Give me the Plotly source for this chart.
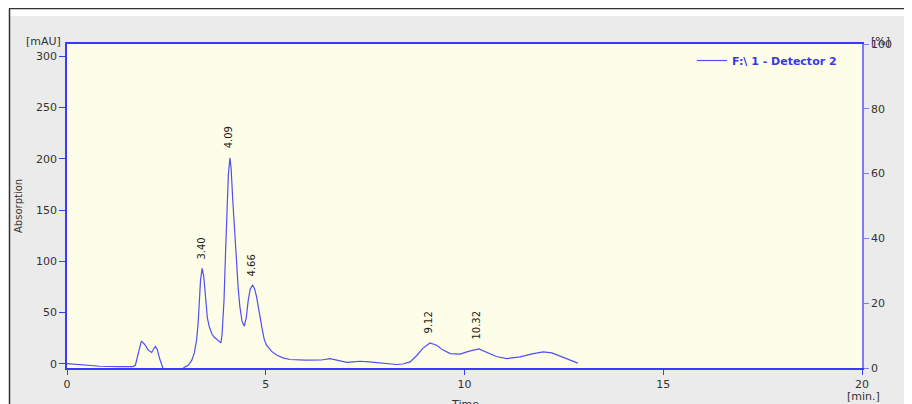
import plotly.graph_objects as go

# ---- data ----
time_min = [0.00, 0.40, 0.83, 1.30, 1.66, 1.72, 1.80, 1.87, 1.95, 2.05, 2.13, 2.18, 2.22, 2.27,
            2.33, 2.41, 2.50, 2.70, 2.88, 2.95, 3.05, 3.14, 3.20, 3.26, 3.30, 3.33, 3.36, 3.40,
            3.44, 3.47, 3.50, 3.53, 3.58, 3.64, 3.70, 3.77, 3.84, 3.87, 3.90, 3.95, 3.99, 4.02,
            4.06, 4.10, 4.13, 4.17, 4.22, 4.27, 4.31, 4.35, 4.40, 4.46, 4.51, 4.56, 4.61, 4.67,
            4.72, 4.77, 4.83, 4.90, 4.96, 5.02, 5.15, 5.28, 5.45, 5.61, 6.00, 6.40, 6.62, 6.80,
            7.04, 7.20, 7.37, 7.60, 7.80, 8.05, 8.29, 8.45, 8.63, 8.80, 8.95, 9.13, 9.30, 9.45,
            9.64, 9.89, 10.10, 10.36, 10.55, 10.80, 11.06, 11.40, 11.70, 11.98, 12.20, 12.50, 12.85]
absorption = [0.0, -1.0, -2.5, -2.8, -2.8, -1.5, 12.0, 22.0, 19.0, 13.0, 11.0, 14.0, 17.0, 14.0,
              5.0, -4.0, -12.0, -15.0, -6.0, -3.5, -1.5, 3.4, 10.0, 22.9, 40.0, 62.0, 82.0, 93.0,
              85.0, 72.0, 55.0, 45.0, 36.0, 29.5, 26.0, 23.6, 21.0, 20.3, 28.0, 62.0, 110.0, 143.0,
              185.0, 201.0, 190.0, 159.5, 125.0, 94.4, 72.0, 55.4, 42.0, 36.6, 45.0, 62.0, 73.0, 76.6,
              73.0, 65.2, 50.0, 35.9, 24.0, 18.0, 12.0, 8.3, 5.5, 4.1, 3.4, 3.6, 5.0, 3.5,
              1.3, 1.8, 2.4, 1.8, 1.2, 0.3, -0.8, -0.3, 1.8, 8.0, 15.0, 20.3, 18.0, 13.5,
              9.9, 9.3, 12.0, 14.5, 11.5, 7.0, 5.0, 6.6, 9.5, 11.5, 10.5, 6.0, 0.5]
peak_times = [3.40, 4.09, 4.66, 9.12, 10.32]
peak_heights = [93.0, 201.0, 76.6, 20.3, 14.5]
peak_labels = ["3.40", "4.09", "4.66", "9.12", "10.32"]
x_ticks = [0, 5, 10, 15, 20]
y_ticks = [0, 50, 100, 150, 200, 250, 300]
y2_ticks = [0, 20, 40, 60, 80, 100]

# page is offset by the 8px body margin
OFF = 8
W, H = 904, 396
L, R, T, B = 59, 50, 36, 36
PW, PH = W - L - R, H - T - B


def px_x(px):  # page pixel -> paper
    return (px - OFF - L) / PW


def px_y(py):  # page pixel -> paper
    return (H - B - (py - OFF)) / PH


FONT = "DejaVu Sans"
TXT = "#333333"
BLUE = "#3a3aff"

fig = go.Figure()
fig.add_trace(go.Scatter(x=time_min, y=absorption, mode="lines",
                         name="F:\\ 1 - Detector 2",
                         line=dict(color="#4f4ff5", width=1.2)))
# invisible trace to activate right axis
fig.add_trace(go.Scatter(x=[None], y=[None], yaxis="y2", showlegend=False, hoverinfo="skip"))

annotations = []
for t, h, lab in zip(peak_times, peak_heights, peak_labels):
    annotations.append(dict(x=t, y=h, xref="x", yref="y", text=lab, showarrow=False,
                            textangle=-90, xanchor="center", yanchor="bottom",
                            yshift=7, xshift=-1, font=dict(family=FONT, size=10, color="#222222")))

annotations += [
    dict(x=px_x(43), y=px_y(41.5), xref="paper", yref="paper", text="[mAU]", showarrow=False,
         xanchor="center", yanchor="middle", font=dict(family=FONT, size=11, color=TXT)),
    dict(x=px_x(880), y=px_y(42), xref="paper", yref="paper", text="[%]", showarrow=False,
         xanchor="center", yanchor="middle", font=dict(family=FONT, size=11, color=TXT)),
    dict(x=px_x(863), y=px_y(396), xref="paper", yref="paper", text="[min.]", showarrow=False,
         xanchor="center", yanchor="middle", font=dict(family=FONT, size=11, color=TXT)),
    dict(x=px_x(465), y=px_y(404), xref="paper", yref="paper", text="Time", showarrow=False,
         xanchor="center", yanchor="middle", font=dict(family=FONT, size=11, color=TXT)),
    dict(x=px_x(18), y=px_y(206), xref="paper", yref="paper", text="Absorption", showarrow=False,
         textangle=-90, xanchor="center", yanchor="middle", font=dict(family=FONT, size=10, color=TXT)),
    dict(x=px_x(912), y=px_y(205), xref="paper", yref="paper", text="Components", showarrow=False,
         textangle=90, xanchor="center", yanchor="middle", font=dict(family=FONT, size=11, color=TXT)),
]

shapes = [
    dict(type="rect", xref="paper", yref="paper", x0=px_x(0), x1=px_x(OFF + W), y0=px_y(0), y1=px_y(16),
         fillcolor="white", line=dict(width=0), layer="below"),
    dict(type="rect", xref="paper", yref="paper", x0=px_x(0), x1=px_x(9), y0=px_y(0), y1=px_y(OFF + H),
         fillcolor="white", line=dict(width=0), layer="below"),
    dict(type="line", xref="paper", yref="paper", x0=px_x(9), x1=px_x(OFF + W), y0=px_y(8.5), y1=px_y(8.5),
         line=dict(color="#333333", width=1.5), layer="below"),
    dict(type="line", xref="paper", yref="paper", x0=px_x(9.5), x1=px_x(9.5), y0=px_y(8.5), y1=px_y(OFF + H),
         line=dict(color="#333333", width=1.5), layer="below"),
]

fig.update_layout(
    width=W, height=H, autosize=False,
    margin=dict(l=L, r=R, t=T, b=B, pad=0),
    paper_bgcolor="#ebebeb", plot_bgcolor="#fefee8",
    font=dict(family=FONT, size=11, color=TXT),
    showlegend=True,
    legend=dict(x=px_x(692), y=px_y(46), xanchor="left", yanchor="top",
                bgcolor="rgba(0,0,0,0)", borderwidth=0,
                font=dict(family=FONT, size=11, color="#3737ee", weight="bold")),
    xaxis=dict(range=[0, 20], tickvals=x_ticks, ticks="outside", ticklen=5, tickcolor=BLUE,
               showline=True, linecolor=BLUE, linewidth=1.5, mirror=True, showgrid=False,
               zeroline=False, tickfont=dict(family=FONT, size=11, color=TXT)),
    yaxis=dict(range=[-4.2, 312], tickvals=y_ticks, ticks="outside", ticklen=6, tickcolor=BLUE,
               showline=True, linecolor=BLUE, linewidth=1.5, showgrid=False, zeroline=False,
               tickfont=dict(family=FONT, size=11, color=TXT)),
    yaxis2=dict(range=[0, 100], tickvals=y2_ticks, overlaying="y", side="right",
                ticks="outside", ticklen=5, tickcolor="#7a7aff", showline=True,
                linecolor="#7a7aff", linewidth=1.5, showgrid=False, zeroline=False,
                tickfont=dict(family=FONT, size=11, color=TXT)),
    annotations=annotations,
    shapes=shapes,
)

fig.write_html("out.html")
